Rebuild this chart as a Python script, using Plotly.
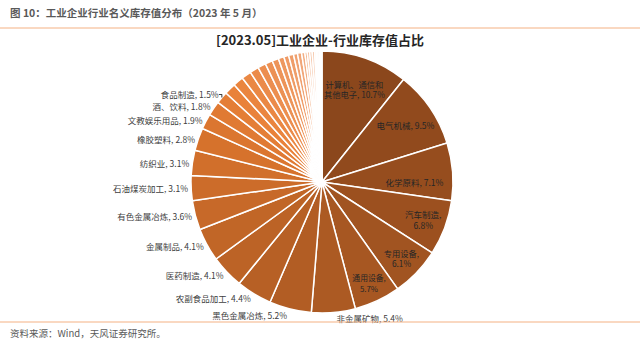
import plotly.graph_objects as go

# ---- data ----
industries = [
    "计算机、通信和<br>其他电子", "电气机械", "化学原料", "汽车制造<br>", "专用设备<br>", "通用设备<br>",
    "非金属矿物", "黑色金属冶炼", "农副食品加工", "医药制造", "金属制品", "有色金属冶炼",
    "石油煤炭加工", "纺织业", "橡胶塑料", "文教娱乐用品", "酒、饮料", "食品制造",
    "电力热力", "纺织服装", "铁路船舶航空", "仪器仪表", "造纸", "化学纤维", "皮革制鞋",
    "家具", "木材加工", "煤炭开采", "印刷", "烟草", "其他制造", "有色矿采选", "燃气",
    "黑色矿采选", "非金属矿采选", "石油天然气开采", "废弃资源", "水生产", "金属制品修理",
    "开采辅助", "其他采矿",
]
shares = [
    10.7, 9.5, 7.1, 6.8, 6.1, 5.7, 5.4, 5.2, 4.4, 4.1, 4.1, 3.6, 3.1, 3.1, 2.8, 1.9, 1.8, 1.5,
    1.4, 1.3, 1.2, 1.1, 1.0, 0.9, 0.8, 0.7, 0.6, 0.6, 0.5, 0.5, 0.4, 0.3, 0.3, 0.3, 0.3,
    0.2, 0.2, 0.2, 0.1, 0.1, 0.1,
]
n_inside = 6
n_labeled = 18

fig_title = "图 10：工业企业行业名义库存值分布（2023 年 5 月）"
chart_title = "[2023.05]工业企业-行业库存值占比"
source_text = "资料来源：Wind，天风证券研究所。"

# ---- styling ----
def lerp(c1, c2, t):
    return tuple(round(a + (b - a) * t) for a, b in zip(c1, c2))

stops = [(0, (139, 71, 28)), (7, (178, 93, 36)), (14, (214, 114, 44)),
         (18, (233, 130, 58)), (28, (240, 160, 110)), (40, (253, 238, 230))]
colors = []
for i in range(len(shares)):
    for (i0, c0), (i1, c1) in zip(stops, stops[1:]):
        if i0 <= i <= i1:
            c = lerp(c0, c1, (i - i0) / (i1 - i0))
            break
    colors.append("rgb(%d,%d,%d)" % c)

positions = []
texts = []
for i, (name, v) in enumerate(zip(industries, shares)):
    if i < n_inside:
        positions.append("inside")
    elif i < n_labeled:
        positions.append("outside")
    else:
        positions.append("none")
    if name.endswith("<br>"):
        texts.append(f"{name[:-4]},<br>{v:.1f}%")
    else:
        texts.append(f"{name}, {v:.1f}%")

FONT = "Noto Sans CJK SC"

fig = go.Figure(go.Pie(
    labels=[t for t in industries],
    values=shares,
    text=texts,
    textinfo="text",
    textposition=positions,
    insidetextorientation="horizontal",
    sort=False,
    direction="clockwise",
    rotation=0,
    marker=dict(colors=colors, line=dict(color="white", width=1.5)),
    textfont=dict(family=FONT, size=8.5, color="#262626"),
    insidetextfont=dict(family=FONT, size=8.5, color="#262626"),
    outsidetextfont=dict(family=FONT, size=8.5, color="#404040"),
    domain=dict(x=[0.2984, 0.7078], y=[0.0875, 0.8513]),
    showlegend=False,
    hoverinfo="label+value",
))

fig.update_layout(
    width=640, height=343,
    margin=dict(l=0, r=0, t=0, b=0),
    paper_bgcolor="white",
    font=dict(family=FONT),
    annotations=[
        dict(text=f"<b>{fig_title}</b>", x=0.012, y=1 - 13 / 343, xref="paper", yref="paper",
             xanchor="left", yanchor="middle", showarrow=False,
             font=dict(family=FONT, size=10.5, color="#595959")),
        dict(text=f"<b>{chart_title}</b>", x=0.5, y=1 - 40 / 343, xref="paper", yref="paper",
             xanchor="center", yanchor="middle", showarrow=False,
             font=dict(family=FONT, size=13, color="#262626")),
        dict(text=source_text, x=0.012, y=1 - 333 / 343, xref="paper", yref="paper",
             xanchor="left", yanchor="middle", showarrow=False,
             font=dict(family=FONT, size=9.5, color="#595959")),
    ],
    shapes=[
        dict(type="line", xref="paper", yref="paper", x0=0, x1=1,
             y0=1 - 28 / 343, y1=1 - 28 / 343, line=dict(color="#F4B183", width=1)),
        dict(type="line", xref="paper", yref="paper", x0=0, x1=1,
             y0=1 - 322 / 343, y1=1 - 322 / 343, line=dict(color="#F4B183", width=1)),
    ],
)

fig.write_html("out.html")
